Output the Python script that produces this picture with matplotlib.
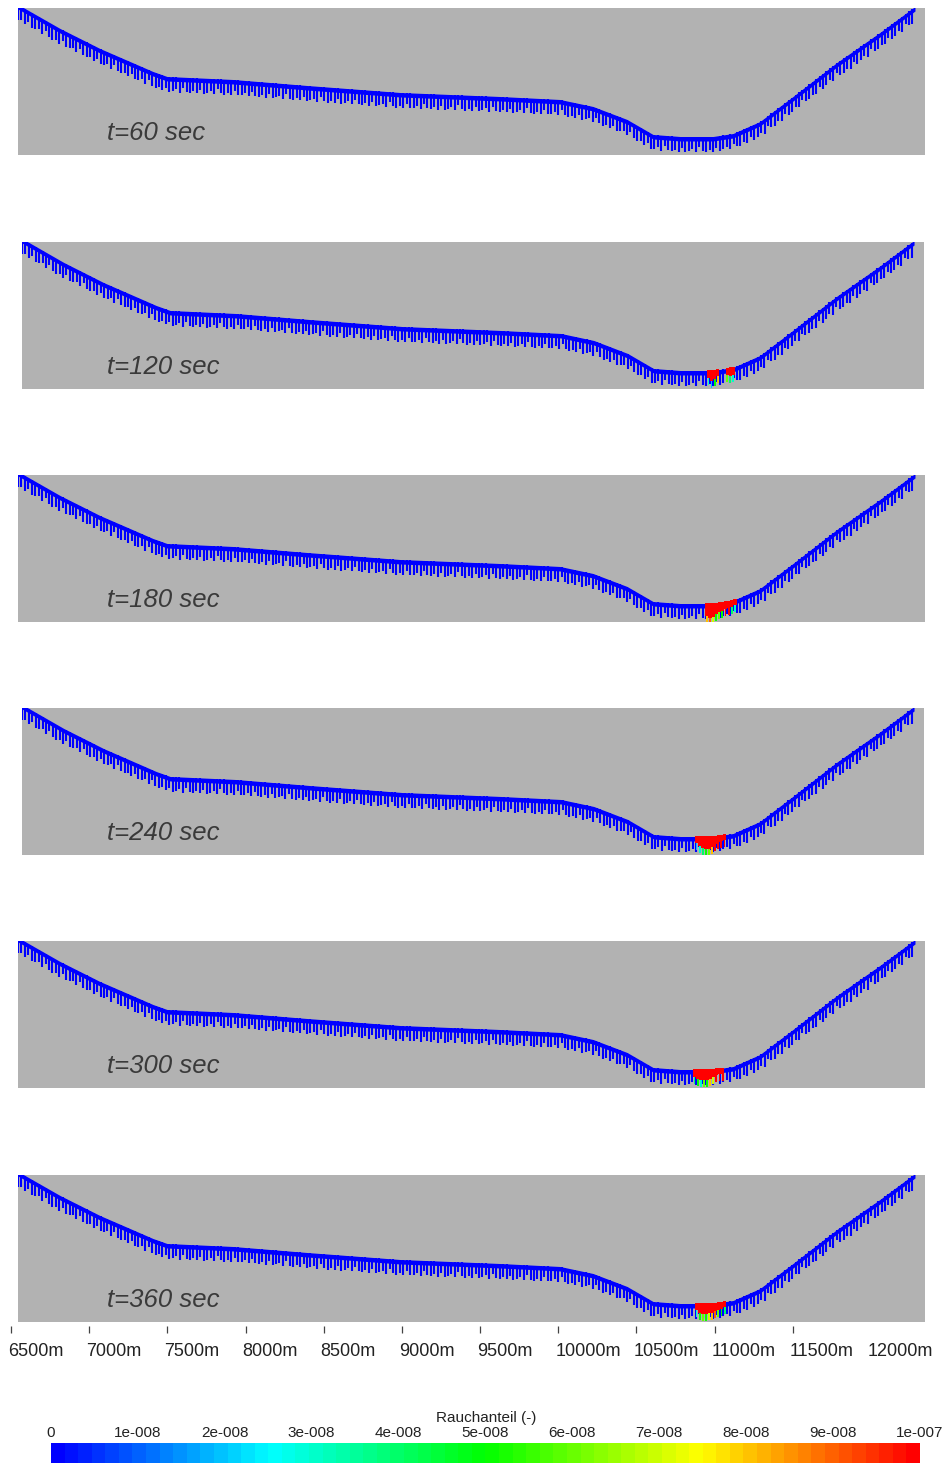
import numpy as np
import matplotlib
matplotlib.use('Agg')
import matplotlib.pyplot as plt
import matplotlib.transforms as mtransforms
from matplotlib.colors import ListedColormap, Normalize, hsv_to_rgb
from matplotlib.cm import ScalarMappable

plt.rcParams['font.family'] = ['Liberation Sans', 'DejaVu Sans']

# time steps of the six snapshots (sec)
times = [60, 120, 180, 240, 300, 360]

# valley profile: position (m) and relative height of the ground surface
terrain_x = [6545, 6814, 7069, 7408, 7498, 7920, 8393, 8988, 9627, 10011, 10222,
             10440, 10606, 10778, 10990, 11118, 11290, 11501, 11782, 12057, 12281]
terrain_z = [300, 252, 212, 166, 156, 150, 138, 124, 116, 110, 96,
             70, 40, 36, 36, 42, 66, 116, 184, 244, 296]

# smoke at the valley floor, columns of 20 m starting at smoke_start
# smoke_depth: depth of the saturated (1e-7) layer, smoke_tip: value below it (1e-8)
smoke_start = [None, 10950, 10940, 10873, 10862, 10875]
smoke_depth = [
    [],
    [14, 20, 16, 12, 0, 0, 12, 16, 14],
    [24, 28, 26, 20, 18, 16, 14, 12, 12, 10],
    [12, 18, 22, 24, 24, 20, 14, 12, 10, 10],
    [14, 18, 20, 20, 20, 18, 14, 12, 10, 10],
    [12, 18, 20, 20, 18, 18, 14, 14, 12, 10],
]
smoke_tip = [
    [],
    [3, 2, 5, 8, 0, 0, 6, 4, 3],
    [8, 9, 7, 5, 6, 5, 10, 10, 4, 3],
    [2, 3, 4, 5, 6, 8, 10, 10, 10, 10],
    [4, 5, 3, 6, 5, 8, 7, 10, 10, 10],
    [3, 5, 6, 5, 7, 8, 9, 6, 5, 4],
]

x_ticks = [6500, 7000, 7500, 8000, 8500, 9000, 9500, 10000, 10500, 11000, 11500, 12000]
cbar_ticks = [0, 1e-8, 2e-8, 3e-8, 4e-8, 5e-8, 6e-8, 7e-8, 8e-8, 9e-8, 1e-7]
cbar_labels = ['0', '1e-008', '2e-008', '3e-008', '4e-008', '5e-008',
               '6e-008', '7e-008', '8e-008', '9e-008', '1e-007']

# blue-to-red rainbow (HSV), 64 steps
n_col = 64
hsv = np.column_stack([np.linspace(2 / 3, 0, n_col), np.ones(n_col), np.ones(n_col)])
cmap = ListedColormap(hsv_to_rgb(hsv))
norm = Normalize(0, 1e-7)

W, H = 948, 1463
fig = plt.figure(figsize=(W / 100, H / 100), dpi=100)


def px_box(l, t, r, b):
    return [l / W, 1 - b / H, (r - l) / W, (b - t) / H]


panel_top = [8, 242, 475, 708, 941, 1175]
panel_left = [18, 22, 18, 22, 18, 18]
panel_right = [925, 924, 925, 924, 925, 925]
panel_h = 147

tx = np.array(terrain_x, dtype=float)
tz = np.array(terrain_z, dtype=float)
band = 8
hair_x = np.arange(tx[0], tx[-1], 22.0)
hair_z = np.interp(hair_x, tx, tz)
hair_len = np.resize([30, 26, 30, 22, 30, 28, 24, 30, 20, 28], len(hair_x))
tip_len = 14

for i, t in enumerate(times):
    ax = fig.add_axes(px_box(panel_left[i], panel_top[i], panel_right[i], panel_top[i] + panel_h))
    ax.set_facecolor('#b2b2b2')
    ax.set_xlim(6545, 12345)
    ax.set_ylim(0, 294)
    ax.set_xticks([])
    ax.set_yticks([])
    for s in ax.spines.values():
        s.set_visible(False)

    ax.vlines(hair_x, hair_z - hair_len, hair_z, color='#0000ff', lw=1.5, zorder=2)
    ax.fill_between(tx, tz - band, tz + 1, color='#0000ff', lw=0, zorder=3)

    if smoke_start[i] is not None:
        for k, (d, tip) in enumerate(zip(smoke_depth[i], smoke_tip[i])):
            if d == 0:
                continue
            x0 = smoke_start[i] + 20 * k
            z0 = np.interp(x0 + 10, tx, tz)
            ax.bar(x0 + 3, tip_len, bottom=z0 - d - tip_len, width=12, align='edge',
                   color=cmap(norm(tip * 1e-8)), lw=0, zorder=4)
            ax.bar(x0, d + 2, bottom=z0 - d, width=20, align='edge',
                   color=cmap(norm(1e-7)), lw=0, zorder=5)

    fig.text(107 / W, 1 - (panel_top[i] + 132) / H, f't={t} sec', fontsize=18.5,
             style='italic', color='#3a3a3a', ha='left', va='baseline')

# distance axis
axx = fig.add_axes(px_box(11, 1325, 871, 1326))
axx.set_xlim(6500, 12000)
axx.set_yticks([])
for s in axx.spines.values():
    s.set_visible(False)
axx.set_xticks(x_ticks)
axx.set_xticklabels([f'{v}m' for v in x_ticks])
axx.tick_params(axis='x', direction='out', length=5, width=0.9, color='#444444',
                pad=7, labelsize=13, labelcolor='#222222')
shift = mtransforms.ScaledTranslation(-3 / 100, 0, fig.dpi_scale_trans)
for lab in axx.get_xticklabels():
    lab.set_ha('left')
    lab.set_transform(lab.get_transform() + shift)
axx.xaxis.get_major_ticks()[-1].tick1line.set_visible(False)

# colour bar
cax = fig.add_axes(px_box(51, 1443, 920, 1463))
sm = ScalarMappable(norm=norm, cmap=cmap)
cb = fig.colorbar(sm, cax=cax, orientation='horizontal', ticks=cbar_ticks)
cb.outline.set_visible(False)
cax.xaxis.set_ticks_position('top')
cax.set_xticklabels(cbar_labels)
cax.tick_params(axis='x', length=0, pad=2, labelsize=11, labelcolor='#222222')
fig.text(486 / W, 1 - 1418 / H, 'Rauchanteil (-)', ha='center', va='center',
         fontsize=11, color='#222222')

fig.savefig('out.png', dpi=100)
